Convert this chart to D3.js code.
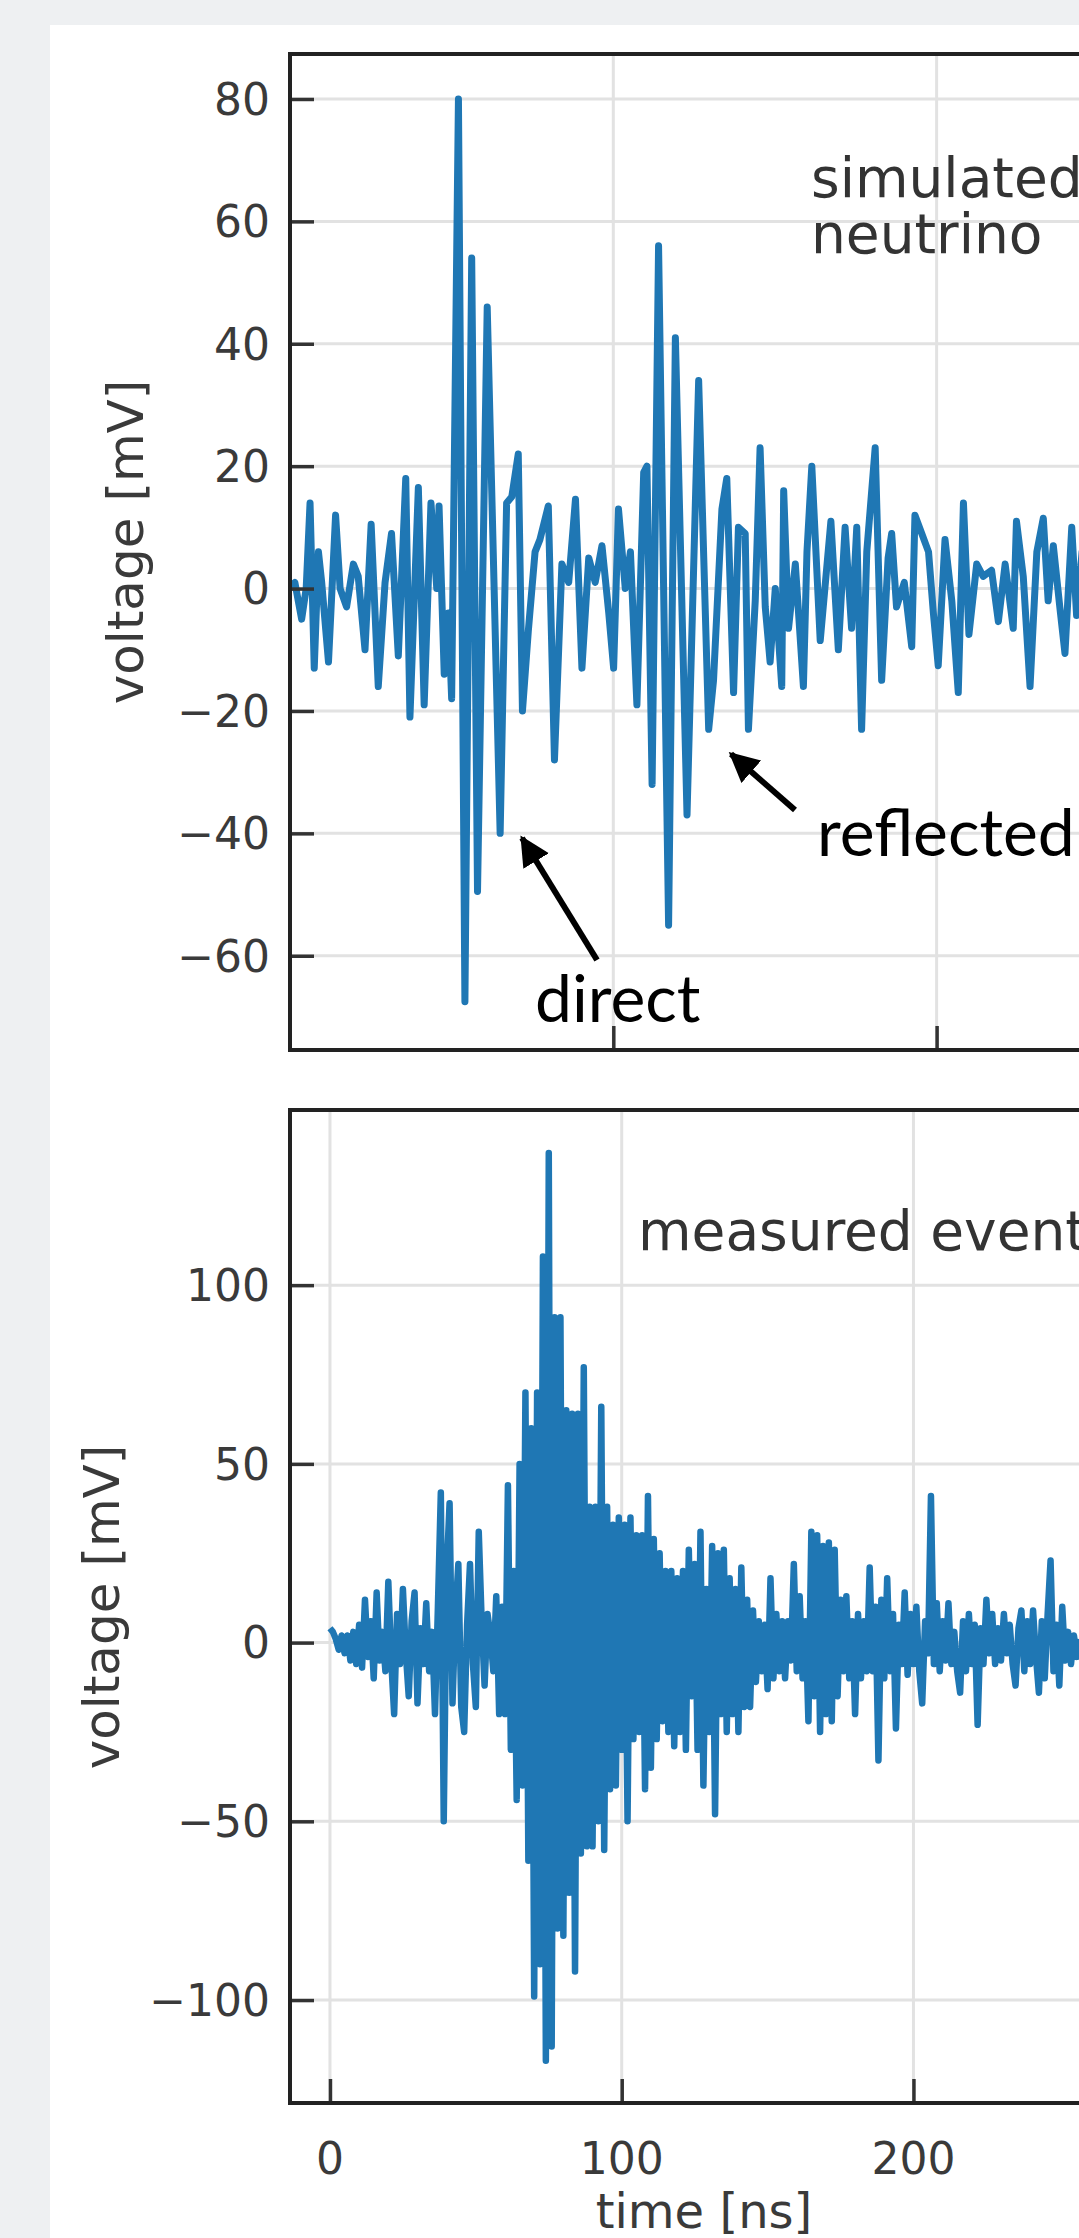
<!DOCTYPE html>
<html>
<head>
<meta charset="utf-8">
<script src="https://cdn.jsdelivr.net/npm/d3@7"></script>
<style>
  html, body { margin: 0; padding: 0; background: #eef0f2; }
  svg { display: block; }
</style>
</head>
<body>
<svg id="chart"></svg>
<script>
// simulated neutrino: turning points of the trace (ns, mV)
const simTime = [0, 1.5, 3.6, 5, 6.2, 7.5, 8.8, 9.8, 11.9, 14.1, 15.5, 17.5, 19.6, 21.1, 23.2, 25.1, 27.3, 29.4, 31.4, 33.5,
  35.8, 37.1, 39.7, 41.5, 43.6, 45.4, 46.1, 47.7, 49, 50, 52.1, 54.1, 56.2, 58, 61, 65, 67, 68.6, 70.6, 71.9,
  73.7, 75.8, 77.3, 79.9, 81.8, 84.1, 86.2, 88.3, 90.3, 92.4, 94.4, 96.5, 98.6, 100.1, 101.6, 103.7, 105.3, 107.3, 109.4, 110.4,
  112, 114, 117.1, 119.2, 122.8, 126.4, 129.5, 131, 133.6, 135.1, 137.2, 138.7, 140.8, 141.8, 143.9, 145.4, 147, 148.5, 150.1, 152.1,
  152.7, 154.2, 156.3, 158.8, 159.9, 161.4, 164, 167.3, 169.6, 171.7, 173.7, 175.3, 176.8, 178.4, 181, 183, 185, 186.1, 187.6, 190,
  192.3, 193.3, 195.4, 197.5, 199, 200.5, 202.6, 204.7, 206.7, 208.3, 210, 212.4, 214.4, 217, 219.1, 221.2, 223.7, 224.7, 226.8, 228.9,
  231, 233, 234.5, 236.1, 238.1, 239.7, 241.8, 243.3, 245, 247];
const simVoltage = [0, 1, -5, 0, 14, -13, 6, 1, -12, 12, 0, -3, 4, 2, -10, 10.5, -16, 1, 9, -11,
  18, -21, 16.5, -19, 14, 0, 13.5, -14, -4, -18, 80, -67.5, 54, -49.5, 46, -40, 14, 15, 22, -20,
  -7, 6, 8, 13.5, -28, 4, 1, 14.6, -13, 5, 1, 7, -4, -13, 13, 0, 6, -19, 19, 20,
  -32, 56, -55, 41, -37, 34, -23, -15, 13, 18, -17, 10, 9, -23, -2, 23, -3, -12, 0, -16,
  16, -6.5, 4, -16, 6, 20, -8.5, 11, -10, 10, -6.5, 10, -23, 6, 23, -15, 5, 9, -3, 1,
  -9.5, 12, 9, 6, -4, -12.6, 8, -2, -17, 14, -7.5, 4, 2, 3, -5.4, 4, -6.5, 11, 2, -16,
  6, 11.5, -2, 7, -3, -10.6, 10, -4.4, 6, -3];

// measured event: one sample per ns starting at t = 0 (mV)
const measStart = 0;
const measStep = 1;
const measVoltage = [
  4, 3, 1, -2, 2, -3, 2, -5, 3, -6,
  5, -7, 12, -4, 6, -10, 14, -5, 3, -8,
  17, -5, -20, 8, -6, 15, -3, -15, 6, 14,
  -17, 4, -6, 11, -8, 3, -20, 10, 42, -50,
  20, 39, -17, 8, 22, -18, -25, 5, 22, -6,
  -18, 31, 6, -12, 8, 2, -8, 13, -20, 10,
  -20, 44, -30, 20, -44, 50, -40, 70, -61, 60,
  -99, 70, -90, 108, -117, 137, -113, 91, -80, 91,
  -82, 65, -70, 64, -92, 64, -59, 77, -57, 38,
  -57, 38, -50, 66, -58, 38, -41, 33, -40, 35,
  -30, 33, -50, 35, -27, 30, -25, 30, -41, 41,
  -35, 29, -27, 25, -22, 20, -25, 20, -29, 18,
  -25, 20, -30, 26, -15, 22, -30, 31, -40, 15,
  -25, 27, -48, 25, -20, 26, -25, 18, -20, 15,
  -25, 21, -18, 12, -18, 9, -11, 6, -8, 5,
  -13, 18, -10, 8, -8, 6, -10, 6, -5, 22,
  -8, 13, -10, 6, -22, 31, -15, 30, -25, 27,
  -20, 28, -22, 26, -15, 12, -8, 13, -10, 6,
  -20, 8, -10, 6, -8, 21, -8, 10, -33, 12,
  -10, 18, -8, 8, -24, 5, -6, 14, -9, 8,
  -6, 10, -8, -17, 6, -3, 41, -6, 11, -8,
  6, -5, 11, -6, 3, -8, -14, 6, -8, 8,
  -6, 5, -23, 4, -6, 12, -3, 8, -6, 4,
  -5, 8, -3, 5, -6, -12, 4, 9, -8, 6,
  -6, 9, -4, -14, 6, -10, 8, 23, -8, 5,
  -12, 10, -5, 3, -6, 2, -4, 1];

const simYTicks = [-60, -40, -20, 0, 20, 40, 60, 80];
const simXTicks = [100, 200];
const measYTicks = [-100, -50, 0, 50, 100];
const measXTicks = [0, 100, 200];

const width = 1079;
const height = 2238;
const lineColor = "#1f77b4";
const fmt = (d) => (d < 0 ? "\u2212" + Math.abs(d) : String(d));

const svg = d3.select("#chart").attr("width", width).attr("height", height);

svg.append("rect").attr("width", width).attr("height", height).attr("fill", "#eef0f2");
svg.append("rect").attr("x", 50).attr("y", 25).attr("width", width - 50).attr("height", height - 25).attr("fill", "#fff");

const defs = svg.append("defs");
defs.append("marker")
  .attr("id", "head")
  .attr("viewBox", "0 0 10 10")
  .attr("refX", 9)
  .attr("refY", 5)
  .attr("markerWidth", 5)
  .attr("markerHeight", 5)
  .attr("markerUnits", "strokeWidth")
  .attr("orient", "auto")
  .append("path")
  .attr("d", "M0,0L10,5L0,10z")
  .attr("fill", "#000");

function panel(id, box, x, y, xTicks, yTicks, points, lineWidth, yLabel) {
  const g = svg.append("g");

  defs.append("clipPath").attr("id", id)
    .append("rect")
    .attr("x", box.left).attr("y", box.top)
    .attr("width", box.right - box.left).attr("height", box.bottom - box.top);

  // grid
  g.append("g").selectAll("line").data(yTicks).join("line")
    .attr("x1", box.left).attr("x2", box.right)
    .attr("y1", (d) => y(d)).attr("y2", (d) => y(d))
    .attr("stroke", "#e2e2e2").attr("stroke-width", 3);
  g.append("g").selectAll("line").data(xTicks).join("line")
    .attr("x1", (d) => x(d)).attr("x2", (d) => x(d))
    .attr("y1", box.top).attr("y2", box.bottom)
    .attr("stroke", "#e2e2e2").attr("stroke-width", 3);

  // trace
  g.append("path")
    .datum(points)
    .attr("clip-path", `url(#${id})`)
    .attr("fill", "none")
    .attr("stroke", lineColor)
    .attr("stroke-width", lineWidth)
    .attr("stroke-linejoin", "round")
    .attr("d", d3.line().x((d) => x(d[0])).y((d) => y(d[1])));

  // inward ticks
  const yAxis = d3.axisRight(y).tickValues(yTicks).tickSize(24).tickFormat("");
  g.append("g").attr("transform", `translate(${box.left},0)`).call(yAxis)
    .call((s) => s.select(".domain").remove())
    .selectAll("line").attr("stroke", "#333").attr("stroke-width", 3.5);
  const xAxis = d3.axisTop(x).tickValues(xTicks).tickSize(24).tickFormat("");
  g.append("g").attr("transform", `translate(0,${box.bottom})`).call(xAxis)
    .call((s) => s.select(".domain").remove())
    .selectAll("line").attr("stroke", "#333").attr("stroke-width", 3.5);

  // frame
  g.append("rect")
    .attr("x", box.left).attr("y", box.top)
    .attr("width", box.right - box.left).attr("height", box.bottom - box.top)
    .attr("fill", "none").attr("stroke", "#222").attr("stroke-width", 4);

  // tick labels
  g.append("g").selectAll("text").data(yTicks).join("text")
    .attr("x", box.left - 20).attr("y", (d) => y(d))
    .attr("dy", "0.36em")
    .attr("text-anchor", "end")
    .attr("font-family", "DejaVu Sans")
    .attr("font-size", 44)
    .attr("fill", "#3a3a3a")
    .text(fmt);

  g.append("text")
    .attr("transform", `translate(${yLabel.x},${yLabel.y}) rotate(-90)`)
    .attr("text-anchor", "middle")
    .attr("dy", "0.36em")
    .attr("font-family", "DejaVu Sans")
    .attr("font-size", 50)
    .attr("fill", "#3a3a3a")
    .text("voltage [mV]");
  return g;
}

// top panel: simulated neutrino
const topBox = { left: 290, right: 1300, top: 54, bottom: 1050 };
const xSim = d3.scaleLinear().domain([0, 312.4]).range([topBox.left, topBox.right]);
const ySim = d3.scaleLinear().domain([-75.4, 87.35]).range([topBox.bottom, topBox.top]);
const simPoints = simTime.map((t, i) => [t, simVoltage[i]]);
panel("clipSim", topBox, xSim, ySim, simXTicks, simYTicks, simPoints, 7, { x: 125, y: 542 });

// bottom panel: measured event
const botBox = { left: 290, right: 1300, top: 1110, bottom: 2103 };
const xMeas = d3.scaleLinear().domain([-13.7, 332.5]).range([botBox.left, botBox.right]);
const yMeas = d3.scaleLinear().domain([-128.8, 149]).range([botBox.bottom, botBox.top]);
const measPoints = measVoltage.map((v, i) => [measStart + i * measStep, v]);
const bottom = panel("clipMeas", botBox, xMeas, yMeas, measXTicks, measYTicks, measPoints, 6.5, { x: 101, y: 1607 });

bottom.append("g").selectAll("text").data(measXTicks).join("text")
  .attr("x", (d) => xMeas(d)).attr("y", 2174)
  .attr("text-anchor", "middle")
  .attr("font-family", "DejaVu Sans")
  .attr("font-size", 44)
  .attr("fill", "#3a3a3a")
  .text(fmt);

bottom.append("text")
  .attr("x", 704).attr("y", 2228)
  .attr("text-anchor", "middle")
  .attr("font-family", "DejaVu Sans")
  .attr("font-size", 48)
  .attr("fill", "#3a3a3a")
  .text("time [ns]");

// annotations
const note = svg.append("g").attr("font-family", "DejaVu Sans").attr("font-size", 55).attr("fill", "#333");
note.append("text").attr("x", 811).attr("y", 197).text("simulated");
note.append("text").attr("x", 811).attr("y", 253).text("neutrino");
note.append("text").attr("x", 638).attr("y", 1250).text("measured event");

const callouts = svg.append("g");
callouts.append("text").attr("x", 535).attr("y", 1022)
  .attr("font-family", "Lato").attr("font-size", 66).attr("fill", "#000").text("direct");
callouts.append("text").attr("x", 817).attr("y", 856)
  .attr("font-family", "Lato").attr("font-size", 66).attr("fill", "#000").text("reflected");
callouts.append("line")
  .attr("x1", 597).attr("y1", 960).attr("x2", 522).attr("y2", 838)
  .attr("stroke", "#000").attr("stroke-width", 6).attr("marker-end", "url(#head)");
callouts.append("line")
  .attr("x1", 795).attr("y1", 810).attr("x2", 731).attr("y2", 754)
  .attr("stroke", "#000").attr("stroke-width", 6).attr("marker-end", "url(#head)");
</script>
</body>
</html>
